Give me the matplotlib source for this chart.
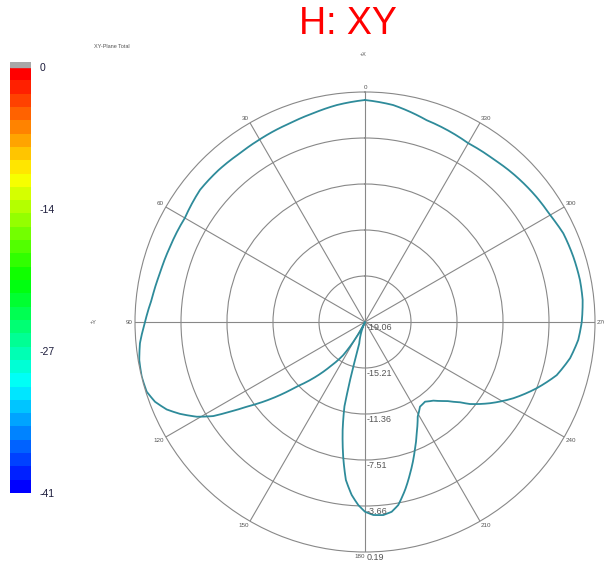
import numpy as np
import matplotlib
matplotlib.use('Agg')
import matplotlib.pyplot as plt
from matplotlib.colors import ListedColormap, hsv_to_rgb

plt.rcParams['font.family'] = ['Liberation Sans', 'DejaVu Sans']

# ── pattern data (XY-plane cut, total gain in dB) ───────────────────────────
ANGLES_DEG = [0, 7.4, 14, 20.7, 30, 36.5, 44, 51.3, 60, 69, 76.6, 84, 90,
              95.4, 99.6, 103.8, 107.7, 110.8, 113.8, 116.4, 119.4, 121.8,
              123.6, 125.6, 128.1, 130.7, 133.4, 137.4, 141.9, 146.7, 150.5,
              155, 165, 165.5, 166.3, 168.3, 170.8, 173.1, 175.6, 177.9, 180,
              182.5, 185.4, 188, 190.3, 193.4, 196.6, 200.6, 204.9, 209.1,
              213, 217, 221, 226, 229.8, 232, 237, 242.8, 248.9, 254.5, 260,
              265.2, 270, 275.8, 281, 287.4, 294.1, 300, 306.1, 316.2, 321.6,
              330, 343, 352.6, 360]
GAIN_DB = [-0.48, -0.75, -1.06, -1.28, -1.42, -1.48, -1.40, -1.37, -1.65,
           -1.57, -1.42, -1.11, -0.65, -0.14, 0.10, 0.18, 0.12, -0.26, -0.92,
           -1.77, -2.91, -4.12, -5.50, -6.88, -8.25, -9.69, -11.19, -12.67,
           -14.31, -15.75, -17.65, -19.06, -17.20, -14.30, -11.80, -9.83,
           -7.64, -5.74, -4.54, -3.73, -3.18, -2.89, -2.83, -3.02, -3.49,
           -4.60, -5.84, -7.32, -8.79, -9.99, -10.61, -10.71, -10.34, -9.55,
           -8.65, -7.91, -6.58, -5.10, -3.66, -2.41, -1.63, -1.15, -0.92,
           -0.75, -0.73, -0.79, -0.88, -1.17, -1.30, -1.55, -1.70, -1.78,
           -1.40, -0.75, -0.48]

RING_DB = [-19.06, -15.21, -11.36, -7.51, -3.66, 0.19]
SPOKE_DEG = list(range(0, 360, 30))

# colour scale shown at the left
CBAR_MIN, CBAR_MAX = -41, 0
CBAR_NTICKS = 4
CBAR_BANDS = 32

W, H = 604, 567
GRID_COLOR = '#888888'
LABEL_COLOR = '#555555'
TRACE_COLOR = '#2e8b9a'


def px_box(x0, y0, x1, y1):
    """Figure-fraction rect from pixel corners (origin top-left)."""
    return [x0 / W, 1 - y1 / H, (x1 - x0) / W, (y1 - y0) / H]


fig = plt.figure(figsize=(W / 100, H / 100), dpi=100)

# ── polar pattern ────────────────────────────────────────────────────────────
ax = fig.add_axes(px_box(135, 92, 595, 552), projection='polar')
ax.set_theta_zero_location('N')
ax.set_theta_direction(1)
ax.set_ylim(RING_DB[0], RING_DB[-1])
ax.set_yticks(RING_DB[1:-1])
ax.set_yticklabels([])
ax.set_xticks(np.deg2rad(SPOKE_DEG))
ax.set_xticklabels([])
ax.grid(True, color=GRID_COLOR, linewidth=0.8)
ax.spines['polar'].set_color(GRID_COLOR)
ax.spines['polar'].set_linewidth(0.8)

trace, = ax.plot(np.deg2rad(ANGLES_DEG), GAIN_DB, color=TRACE_COLOR,
                 linewidth=1.3, solid_joinstyle='round')
# follow the polar spiral between samples instead of straight chords
trace.get_path()._interpolation_steps = 12

# angle labels just outside the rim
for deg in SPOKE_DEG:
    th = np.deg2rad(deg)
    dx, dy = -np.sin(th), np.cos(th)
    if deg == 180:
        ha = 'right'
    elif abs(dx) < 0.01:
        ha = 'center'
    else:
        ha = 'right' if dx < 0 else 'left'
    va = 'center' if abs(dy) < 0.01 else ('bottom' if dy > 0 else 'top')
    ax.annotate(str(deg), xy=(th, RING_DB[-1]), xytext=(dx * 1.5, dy * 1.5),
                textcoords='offset points', ha=ha, va=va, fontsize=4.5,
                color=LABEL_COLOR, annotation_clip=False)

# ring values down the 180 spoke
for v in RING_DB:
    ax.annotate(f'{v:.2f}', xy=(np.pi, v), xytext=(1.5, -0.5),
                textcoords='offset points', ha='left', va='top',
                fontsize=6.5, color=LABEL_COLOR, annotation_clip=False)

# ── colour bar ───────────────────────────────────────────────────────────────
cax = fig.add_axes(px_box(10, 62, 31, 493))
hues = np.linspace(240 / 360, 0, CBAR_BANDS)
band_rgb = hsv_to_rgb(np.column_stack([hues, np.ones_like(hues), np.ones_like(hues)]))
cmap = ListedColormap(band_rgb)
cax.imshow(np.linspace(CBAR_MIN, CBAR_MAX, CBAR_BANDS)[:, None], cmap=cmap,
           extent=[0, 1, CBAR_MIN, CBAR_MAX], origin='lower', aspect='auto')
cax.axhspan(CBAR_MAX, CBAR_MAX + 0.5, color='#a8a8a8')
cax.set_xlim(0, 1)
cax.set_ylim(CBAR_MIN, CBAR_MAX + 0.5)
cax.set_xticks([])
ticks = np.linspace(CBAR_MAX, CBAR_MIN, CBAR_NTICKS)
cax.yaxis.tick_right()
cax.set_yticks(ticks)
cax.set_yticklabels([f'{round(t):d}' for t in ticks])
cax.tick_params(axis='y', length=0, pad=6, labelsize=7.5, labelcolor='#1c1c3c')
for sp in cax.spines.values():
    sp.set_visible(False)

# ── titles and axis tags ─────────────────────────────────────────────────────
fig.text(348 / W, 1 - 24 / H, 'H: XY', color='red', fontsize=27,
         ha='center', va='center')
fig.text(112 / W, 1 - 47 / H, 'XY-Plane Total', color=LABEL_COLOR,
         fontsize=4, ha='center', va='center')
fig.text(363 / W, 1 - 55 / H, '+X', color=LABEL_COLOR, fontsize=4,
         ha='center', va='center')
fig.text(93 / W, 1 - 323 / H, '+Y', color=LABEL_COLOR, fontsize=4,
         ha='center', va='center')

fig.savefig('out.png', dpi=100)
